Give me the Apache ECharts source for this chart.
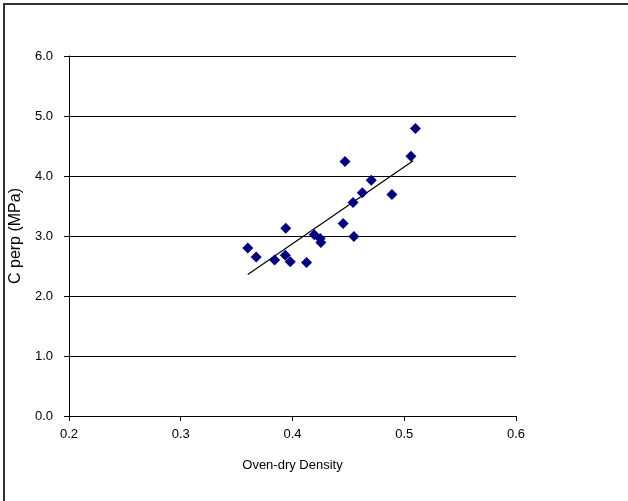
<!DOCTYPE html>
<html>
<head>
<meta charset="utf-8">
<script src="https://cdn.jsdelivr.net/npm/echarts@6/dist/echarts.min.js"></script>
<style>
  html, body { margin: 0; padding: 0; background: #fff; }
  #chart { width: 628px; height: 501px; }
</style>
</head>
<body>
<div id="chart"></div>
<script>
// Oven-dry density vs. compression strength perpendicular to grain
const density = [0.360, 0.3675, 0.384, 0.394, 0.3936, 0.398, 0.4126, 0.4195, 0.4248, 0.4254,
                 0.4453, 0.447, 0.455, 0.4542, 0.4625, 0.4705, 0.489, 0.506, 0.510];
const cPerp = [2.80, 2.65, 2.60, 3.13, 2.68, 2.57, 2.56, 3.02, 2.96, 2.89,
               3.21, 4.24, 2.99, 3.56, 3.72, 3.93, 3.69, 4.33, 4.79];

// Linear trend line end points
const trendX = [0.360, 0.508];
const trendY = [2.36, 4.255];

const xTicks = [0.2, 0.3, 0.4, 0.5, 0.6];
const yTicks = [0.0, 1.0, 2.0, 3.0, 4.0, 5.0, 6.0];

const FONT = '"Liberation Sans", Arial, sans-serif';

const chart = echarts.init(document.getElementById('chart'), null, { renderer: 'canvas' });

chart.setOption({
  backgroundColor: '#fff',
  animation: false,
  grid: { left: 67, right: 112, top: 56, bottom: 85 },
  graphic: [{
    type: 'rect',
    shape: { x: 4, y: 4, width: 900, height: 900 },
    style: { fill: 'none', stroke: '#333', lineWidth: 2 },
    silent: true
  }],
  xAxis: {
    type: 'value',
    min: xTicks[0],
    max: xTicks[xTicks.length - 1],
    interval: 0.1,
    name: 'Oven-dry Density',
    nameLocation: 'middle',
    nameGap: 43,
    nameTextStyle: { color: '#000', fontSize: 13, fontFamily: FONT },
    axisLine: { onZero: false, lineStyle: { color: '#000', width: 1 } },
    axisTick: { show: true, inside: false, length: 5, lineStyle: { color: '#000' } },
    axisLabel: {
      color: '#000', fontSize: 13, fontFamily: FONT, margin: 12,
      formatter: v => v.toFixed(1)
    },
    splitLine: { show: false }
  },
  yAxis: {
    type: 'value',
    min: yTicks[0],
    max: yTicks[yTicks.length - 1],
    interval: 1,
    name: 'C perp (MPa)',
    nameLocation: 'middle',
    nameGap: 41,
    nameTextStyle: { color: '#000', fontSize: 16, fontFamily: FONT },
    axisLine: { show: true, lineStyle: { color: '#000', width: 1 } },
    axisTick: { show: true, inside: false, length: 5, lineStyle: { color: '#000' } },
    axisLabel: {
      color: '#000', fontSize: 13, fontFamily: FONT, margin: 16,
      formatter: v => v.toFixed(1)
    },
    splitLine: { show: true, lineStyle: { color: '#000', width: 1 } }
  },
  series: [
    {
      type: 'line',
      data: trendX.map((x, i) => [x, trendY[i]]),
      symbol: 'none',
      lineStyle: { color: '#000', width: 1.2 },
      z: 2,
      silent: true
    },
    {
      type: 'scatter',
      data: density.map((x, i) => [x, cPerp[i]]),
      symbol: 'diamond',
      symbolSize: 11,
      itemStyle: { color: '#000080', opacity: 1 },
      z: 3
    }
  ]
});
</script>
</body>
</html>
